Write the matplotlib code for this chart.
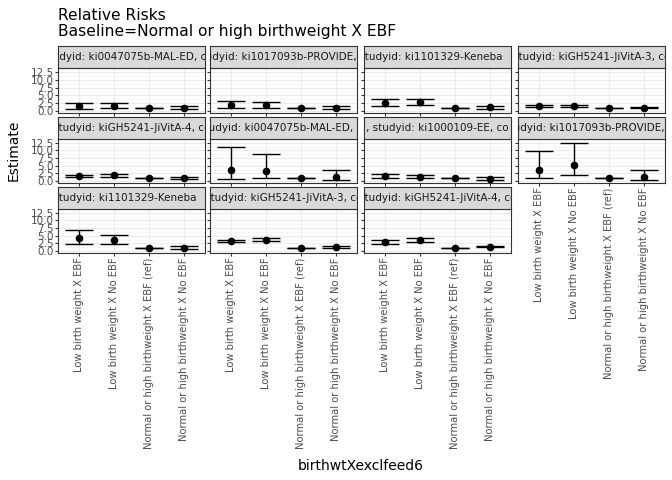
import matplotlib
matplotlib.use('Agg')
import matplotlib.pyplot as plt

W, H = 672, 480

categories = ["Low birth weight X EBF", "Low birth weight X No EBF",
              "Normal or high birthweight X EBF (ref)", "Normal or high birthweight X No EBF"]

strips = [
    "studyid: ki0047075b-MAL-ED, cou",
    "studyid: ki1017093b-PROVIDE, co",
    " studyid: ki1101329-Keneba     ",
    "studyid: kiGH5241-JiVitA-3, co",
    "studyid: kiGH5241-JiVitA-4, co",
    "studyid: ki0047075b-MAL-ED, co",
    ", studyid: ki1000109-EE, co",
    "studyid: ki1017093b-PROVIDE, co",
    " studyid: ki1101329-Keneba     ",
    "studyid: kiGH5241-JiVitA-3, co",
    "studyid: kiGH5241-JiVitA-4, co",
]

est = [[1.5, 1.6, 1.0, 1.1], [1.9, 1.8, 1.0, 1.0], [2.7, 2.8, 1.0, 1.2], [1.7, 1.7, 1.0, 1.1],
       [1.6, 1.9, 1.0, 1.1], [3.5, 3.2, 1.0, 1.3], [1.7, 1.4, 1.0, 0.8], [3.7, 5.2, 1.0, 1.5],
       [4.2, 3.5, 1.0, 1.0], [3.2, 3.8, 1.0, 1.3], [2.9, 3.7, 1.0, 1.5]]
lower = [[0.8, 0.9, 1.0, 0.6], [1.1, 1.1, 1.0, 0.6], [1.7, 1.8, 1.0, 0.8], [1.3, 1.4, 1.0, 0.9],
         [1.2, 1.5, 1.0, 0.8], [0.8, 0.9, 1.0, 0.3], [1.1, 0.9, 1.0, 0.4], [1.1, 2.0, 1.0, 0.5],
         [2.4, 2.4, 1.0, 0.6], [2.9, 3.4, 1.0, 1.1], [2.4, 3.1, 1.0, 1.2]]
upper = [[2.6, 2.7, 1.0, 1.6], [3.1, 3.0, 1.0, 1.5], [3.9, 3.9, 1.0, 1.7], [2.1, 2.1, 1.0, 1.4],
         [2.0, 2.4, 1.0, 1.5], [11.0, 8.8, 1.0, 3.5], [2.4, 2.1, 1.0, 1.3], [9.8, 12.3, 1.0, 3.6],
         [7.0, 5.4, 1.0, 1.6], [3.6, 4.3, 1.0, 1.6], [3.5, 4.4, 1.0, 1.8]]

yticks = [0.0, 2.5, 5.0, 7.5, 10.0, 12.5]

fig = plt.figure(figsize=(W / 100, H / 100), dpi=100)

col_x = [58, 210, 364, 518]
col_w = 147
rows = [(46, 68, 113), (117, 139, 183), (187, 209, 253)]

def px(x0, y0, x1, y1):
    return [x0 / W, 1 - y1 / H, (x1 - x0) / W, (y1 - y0) / H]

for i in range(len(strips)):
    r, c = divmod(i, 4)
    st, top, bot = rows[r]
    x0 = col_x[c]
    ax = fig.add_axes(px(x0, top, x0 + col_w, bot))
    xs = range(len(categories))
    ax.errorbar(xs, est[i],
                yerr=[[e - l for e, l in zip(est[i], lower[i])], [u - e for e, u in zip(est[i], upper[i])]],
                fmt='o', color='black', ms=4.5, elinewidth=1, capsize=10, capthick=1)
    ax.set_ylim(-0.6, 13.5)
    ax.set_xlim(-0.6, 3.6)
    ax.set_yticks(yticks)
    ax.set_yticks([1.25 + 2.5 * k for k in range(6)], minor=True)
    ax.set_xticks(list(xs))
    ax.grid(True, which='major', color='#ebebeb', lw=0.8)
    ax.grid(True, which='minor', axis='y', color='#f4f4f4', lw=0.5)
    ax.set_axisbelow(True)
    for s in ax.spines.values():
        s.set_color('#333333')
    ax.tick_params(length=2, color='#333333', labelsize=7.5, labelcolor='#4d4d4d', pad=1)
    ax.tick_params(which='minor', length=0)
    if c == 0:
        ax.set_yticklabels([f"{t:.1f}" for t in yticks])
    else:
        ax.set_yticklabels([])
    bottom_row = (r == 2) or (r == 1 and c == 3)
    if bottom_row:
        ax.set_xticklabels(categories, rotation=90, fontsize=7.2, color='#4d4d4d')
    else:
        ax.set_xticklabels([])
    # strip
    sa = fig.add_axes(px(x0, st, x0 + col_w, top))
    sa.set_xticks([]); sa.set_yticks([])
    sa.set_facecolor('#d9d9d9')
    for s in sa.spines.values():
        s.set_color('#333333')
    sa.text(0.5, 0.5, strips[i], ha='center', va='center', fontsize=7.5,
            color='#1a1a1a', transform=sa.transAxes, clip_on=True)

fig.text(58 / W, 1 - 8 / H, "Relative Risks\nBaseline=Normal or high birthweight X EBF",
         ha='left', va='top', fontsize=11.2, linespacing=1.1)
fig.text(14 / W, 1 - 150 / H, "Estimate", rotation=90, ha='center', va='center', fontsize=10)
fig.text(361 / W, 1 - 466 / H, "birthwtXexclfeed6", ha='center', va='center', fontsize=10)

fig.savefig('out.png', dpi=100)
